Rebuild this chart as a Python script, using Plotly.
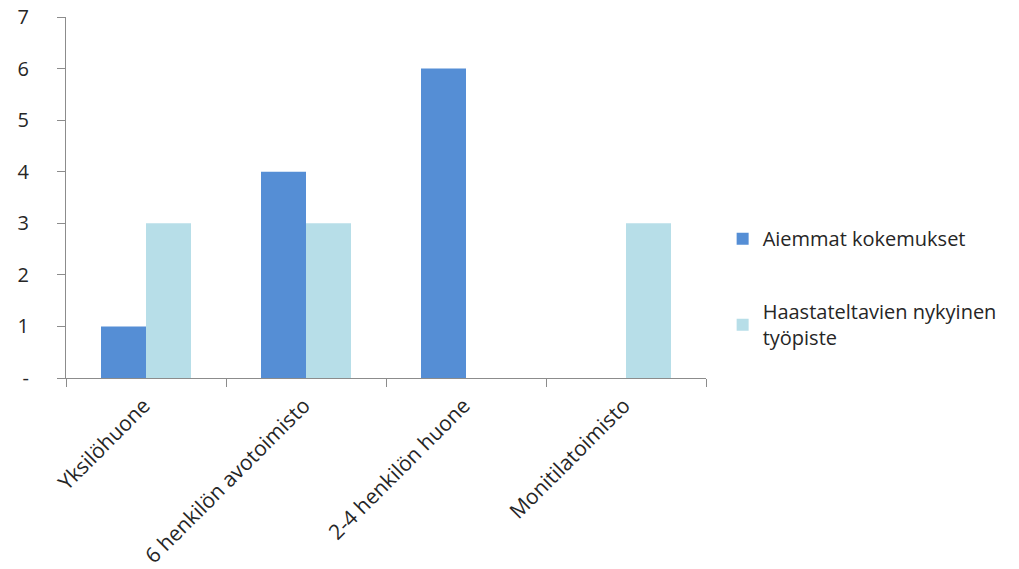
import plotly.graph_objects as go

categories = ["Yksilöhuone", "6 henkilön avotoimisto", "2-4 henkilön huone", "Monitilatoimisto"]
aiemmat = [1, 4, 6, 0]
nykyinen = [3, 3, 0, 3]
series_names = ["Aiemmat kokemukset", "Haastateltavien nykyinen<br>työpiste"]
ytick_vals = [0, 1, 2, 3, 4, 5, 6, 7]
ytick_text = ["-", "1", "2", "3", "4", "5", "6", "7"]

font_family = "Open Sans, Lato, sans-serif"
text_color = "#262626"
axis_color = "#8c8c8c"
fs = 20

fig = go.Figure()
fig.add_trace(go.Bar(x=categories, y=aiemmat, name=series_names[0],
                     marker=dict(color="#558ED5", line=dict(width=0)),
                     legendgroup="a"))
fig.add_trace(go.Bar(x=categories, y=nykyinen, name=series_names[1],
                     marker=dict(color="#B7DEE8", line=dict(width=0)),
                     legendgroup="b"))

fig.update_layout(
    width=1019, height=569,
    margin=dict(l=66, r=313, t=17, b=191),
    paper_bgcolor="white", plot_bgcolor="white",
    barmode="group", bargap=0.4375, bargroupgap=0,
    font=dict(family=font_family, size=fs, color=text_color),
    legend=dict(x=1.026, y=0.44, xanchor="left", yanchor="top",
                font=dict(size=fs, color=text_color),
                tracegroupgap=44, itemwidth=30,
                bgcolor="rgba(0,0,0,0)"),
    xaxis=dict(
        type="category", tickangle=-45, automargin=False,
        showline=True, linecolor=axis_color, linewidth=1,
        ticks="outside", ticklen=8, tickcolor=axis_color,
        tickson="boundaries", showgrid=False,
        tickfont=dict(size=21, color=text_color),
        ticklabelshift=-2, ticklabelstandoff=6,
        range=[-0.5, 3.5],
    ),
    yaxis=dict(
        range=[0, 7], tickvals=ytick_vals, ticktext=ytick_text,
        automargin=False,
        showline=True, linecolor=axis_color, linewidth=1,
        ticks="outside", ticklen=8, tickcolor=axis_color,
        showgrid=False, zeroline=False,
        tickfont=dict(size=fs, color=text_color),
        ticklabelstandoff=24,
    ),
)

fig.write_html("out.html")
